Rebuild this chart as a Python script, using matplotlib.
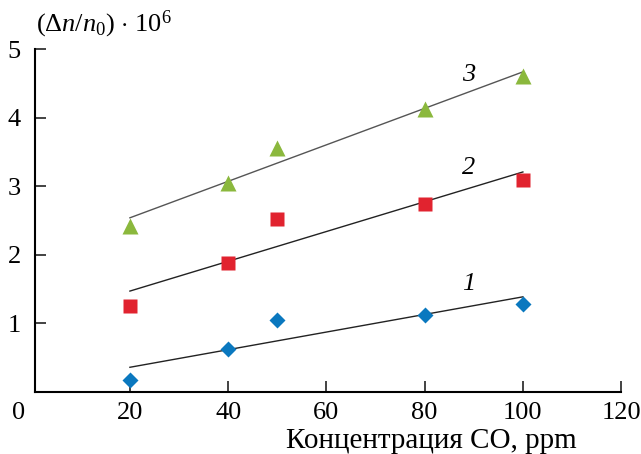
import numpy as np
import matplotlib
matplotlib.use('Agg')
import matplotlib.pyplot as plt

plt.rcParams['font.family'] = ['Liberation Serif', 'DejaVu Serif']
plt.rcParams['mathtext.fontset'] = 'custom'
plt.rcParams['mathtext.rm'] = 'Liberation Serif'
plt.rcParams['mathtext.it'] = 'Liberation Serif:italic'

# концентрация CO, ppm
conc = [20, 40, 50, 80, 100]
# (dn/n0)*1e6 для трех кривых
s1 = [0.17, 0.62, 1.05, 1.12, 1.28]
s2 = [1.25, 1.88, 2.52, 2.74, 3.09]
s3 = [2.42, 3.05, 3.56, 4.12, 4.60]
curve_labels = ['1', '2', '3']
label_pos = [(89, 1.58), (89, 3.26), (89, 4.62)]
xticks = [20, 40, 60, 80, 100, 120]
yticks = [1, 2, 3, 4, 5]

fs = 19

fig = plt.figure(figsize=(6.41, 4.54), dpi=100)
ax = fig.add_axes([0.054, 0.1366, 0.915, 0.7554])

series = [s1, s2, s3]
markers = ['D', 's', '^']
colors = ['#0a78bf', '#e1232f', '#8bb83d']
msizes = [8, 10, 11.5]
lcolors = ['#222222', '#222222', '#555555']
for ys, m, c, ms, lc in zip(series, markers, colors, msizes, lcolors):
    k, b = np.polyfit(conc, ys, 1)
    xl = np.array([conc[0], conc[-1]])
    ax.plot(xl, k * xl + b, color=lc, lw=1.0, zorder=2)
    ax.plot(conc, ys, linestyle='none', marker=m, color=c, ms=ms, mec='none', zorder=3)

for t, (x, y) in zip(curve_labels, label_pos):
    ax.text(x, y, t, fontsize=fs, style='italic', ha='center', va='center')

ax.set_xlim(0.6, 120)
ax.set_ylim(0, 5)
ax.set_xticks(xticks)
ax.set_yticks(yticks)
ax.spines['top'].set_visible(False)
ax.spines['right'].set_visible(False)
ax.spines['left'].set_linewidth(1.5)
ax.spines['bottom'].set_linewidth(1.5)
ax.tick_params(direction='in', length=8, width=1.2, labelsize=fs, color='#222222')
ax.tick_params(axis='x', pad=7)
ax.tick_params(axis='y', pad=10)

ax.text(-0.028, -0.028, '0', transform=ax.transAxes, fontsize=fs, ha='center', va='top')
ax.text(0.002, 1.025, r'$(\Delta n/n_0)$ $\cdot$ $10^6$', transform=ax.transAxes,
        fontsize=fs, ha='left', va='bottom')
ax.text(0.677, -0.105, 'Концентрация CO, ppm', transform=ax.transAxes,
        fontsize=21, ha='center', va='top')

fig.savefig('out.png', dpi=100)
